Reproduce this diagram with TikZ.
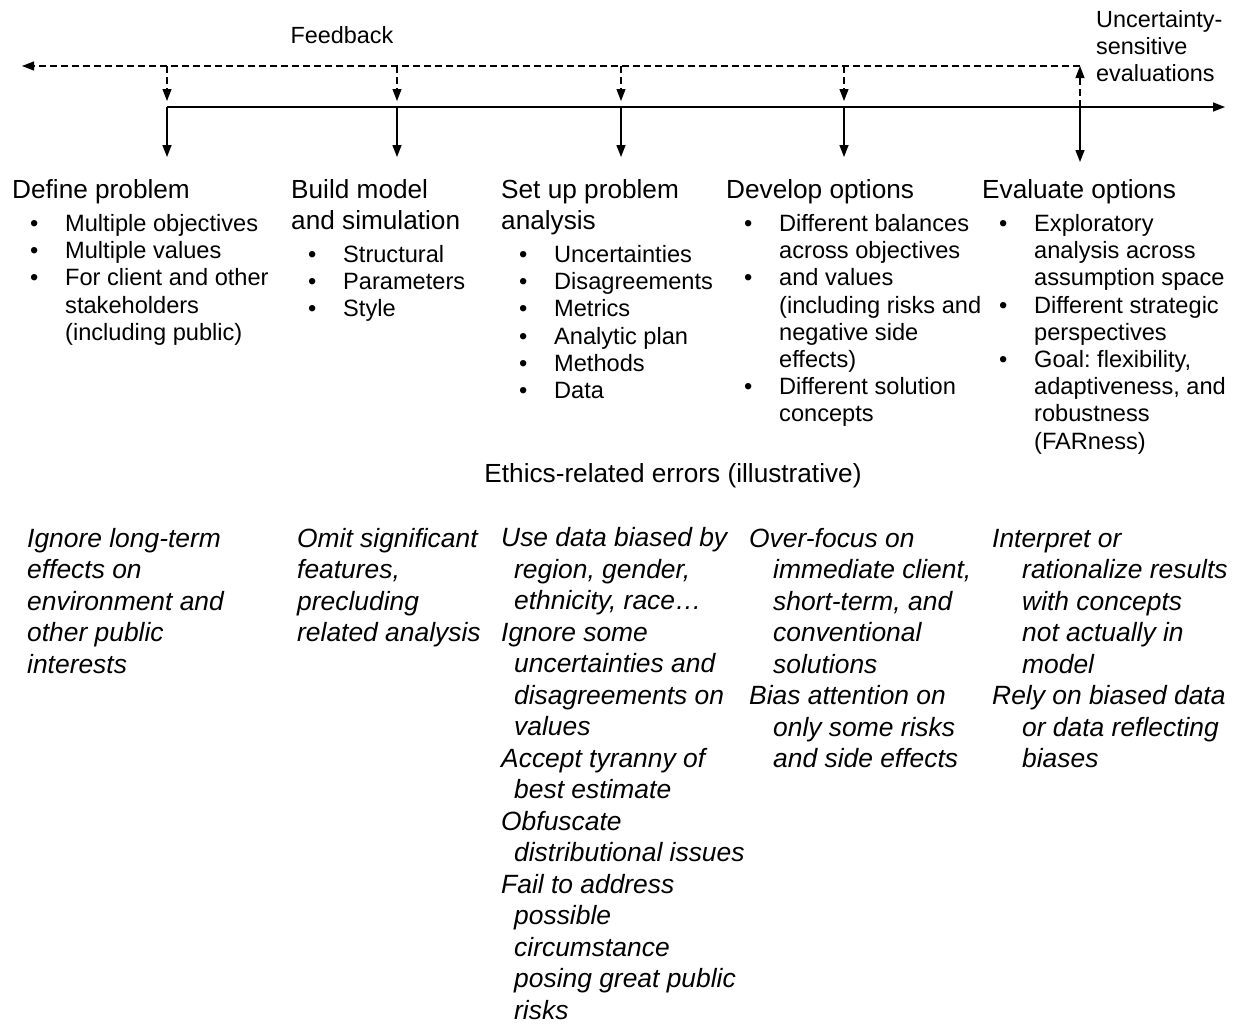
\documentclass[tikz,border=0pt]{standalone}
\usepackage{fontspec}
\setmainfont{Liberation Sans}
\usepackage{tikz}
\usetikzlibrary{arrows.meta}
\frenchspacing
\tikzset{
  head/.style={anchor=base west, inner sep=0pt, font=\fontsize{26.3}{32}\selectfont},
  blist/.style={anchor=base west, inner sep=0pt, font=\fontsize{23.7}{27.3}\selectfont},
  err/.style={anchor=base west, inner sep=0pt, font=\fontsize{26.5}{31.65}\selectfont\itshape},
  note/.style={inner sep=0pt, font=\fontsize{23.5}{27.4}\selectfont},
  flow/.style={-{Triangle[length=12bp,width=9bp]}, line width=1.4bp},
  back/.style={flow, line width=1.2bp, dash pattern=on 7bp off 4bp},
}
\newcommand{\lines}[1]{\begin{tabular}[t]{@{}l@{}}#1\end{tabular}}
\newcommand{\bl}{\makebox[35bp][l]{\textbullet}}
\newcommand{\nb}{\hspace*{35bp}}
\newcommand{\indentby}[1]{\hspace*{#1bp}}

\begin{document}
\begin{tikzpicture}[x=1bp, y=-1bp]
\useasboundingbox (0,0) rectangle (1238,1025);

\coordinate (fb) at (22,66);
\coordinate (te) at (1225,107);
\foreach \i/\x/\y in {1/167/157, 2/397/157, 3/621/157, 4/844/157, 5/1080/162} {
  \coordinate (f\i) at (\x,66);
  \coordinate (s\i) at (\x,107);
  \coordinate (h\i) at (\x,\y);
}

\node[note, anchor=base] (feedback) at (342,43) {Feedback};
\node[note, anchor=base west] (uncert) at (1096,27) {\lines{Uncertainty-\\sensitive\\evaluations}};

\draw[back] (f5) -- (fb);
\foreach \i in {1,...,4}
  \draw[back, shorten >=6bp] (f\i) -- (s\i);
\draw[back] (s5) -- (f5);
\draw[flow] (s1) -- (te);
\foreach \i in {1,...,5}
  \draw[flow] (s\i) -- (h\i);

\node[head] (define) at (12,198) {Define problem};
\node[head] (build) at (291,198) {\lines{Build model\\and simulation}};
\node[head] (setup) at (501,198) {\lines{Set up problem\\analysis}};
\node[head] (develop) at (726,198) {Develop options};
\node[head] (evaluate) at (982,198) {Evaluate options};

\node[blist] (define list) at (30,231.5) {\lines{\bl Multiple objectives\\ \bl Multiple values\\ \bl For client and other\\ \nb stakeholders\\ \nb (including public)}};
\node[blist] (build list) at (308,262.5) {\lines{\bl Structural\\ \bl Parameters\\ \bl Style}};
\node[blist] (setup list) at (519,262.5) {\lines{\bl Uncertainties\\ \bl Disagreements\\ \bl Metrics\\ \bl Analytic plan\\ \bl Methods\\ \bl Data}};
\node[blist] (develop list) at (744,231.5) {\lines{\bl Different balances\\ \nb across objectives\\ \bl and values\\ \nb (including risks and\\ \nb negative side\\ \nb effects)\\ \bl Different solution\\ \nb concepts}};
\node[blist] (evaluate list) at (999,231.5) {\lines{\bl Exploratory\\ \nb analysis across\\ \nb assumption space\\ \bl Different strategic\\ \nb perspectives\\ \bl Goal: flexibility,\\ \nb adaptiveness, and\\ \nb robustness\\ \nb (FARness)}};

\node[head, anchor=base] (ethics) at (673,482) {Ethics-related errors (illustrative)};

\node[err] (define err) at (27,547) {\lines{Ignore long-term\\effects on\\environment and\\other public\\interests}};
\node[err] (build err) at (297,547) {\lines{Omit significant\\features,\\precluding\\related analysis}};
\node[err] (setup err) at (501,546.5) {\lines{Use data biased by\\ \indentby{13}region, gender,\\ \indentby{13}ethnicity, race…\\ Ignore some\\ \indentby{13}uncertainties and\\ \indentby{13}disagreements on\\ \indentby{13}values\\ Accept tyranny of\\ \indentby{13}best estimate\\ Obfuscate\\ \indentby{13}distributional issues\\ Fail to address\\ \indentby{13}possible\\ \indentby{13}circumstance\\ \indentby{13}posing great public\\ \indentby{13}risks\\[-8bp]}};
\node[err] (develop err) at (749,547) {\lines{Over-focus on\\ \indentby{24}immediate client,\\ \indentby{24}short-term, and\\ \indentby{24}conventional\\ \indentby{24}solutions\\ Bias attention on\\ \indentby{24}only some risks\\ \indentby{24}and side effects}};
\node[err] (evaluate err) at (992,547) {\lines{Interpret or\\ \indentby{30}rationalize results\\ \indentby{30}with concepts\\ \indentby{30}not actually in\\ \indentby{30}model\\ Rely on biased data\\ \indentby{30}or data reflecting\\ \indentby{30}biases}};
\end{tikzpicture}
\end{document}
